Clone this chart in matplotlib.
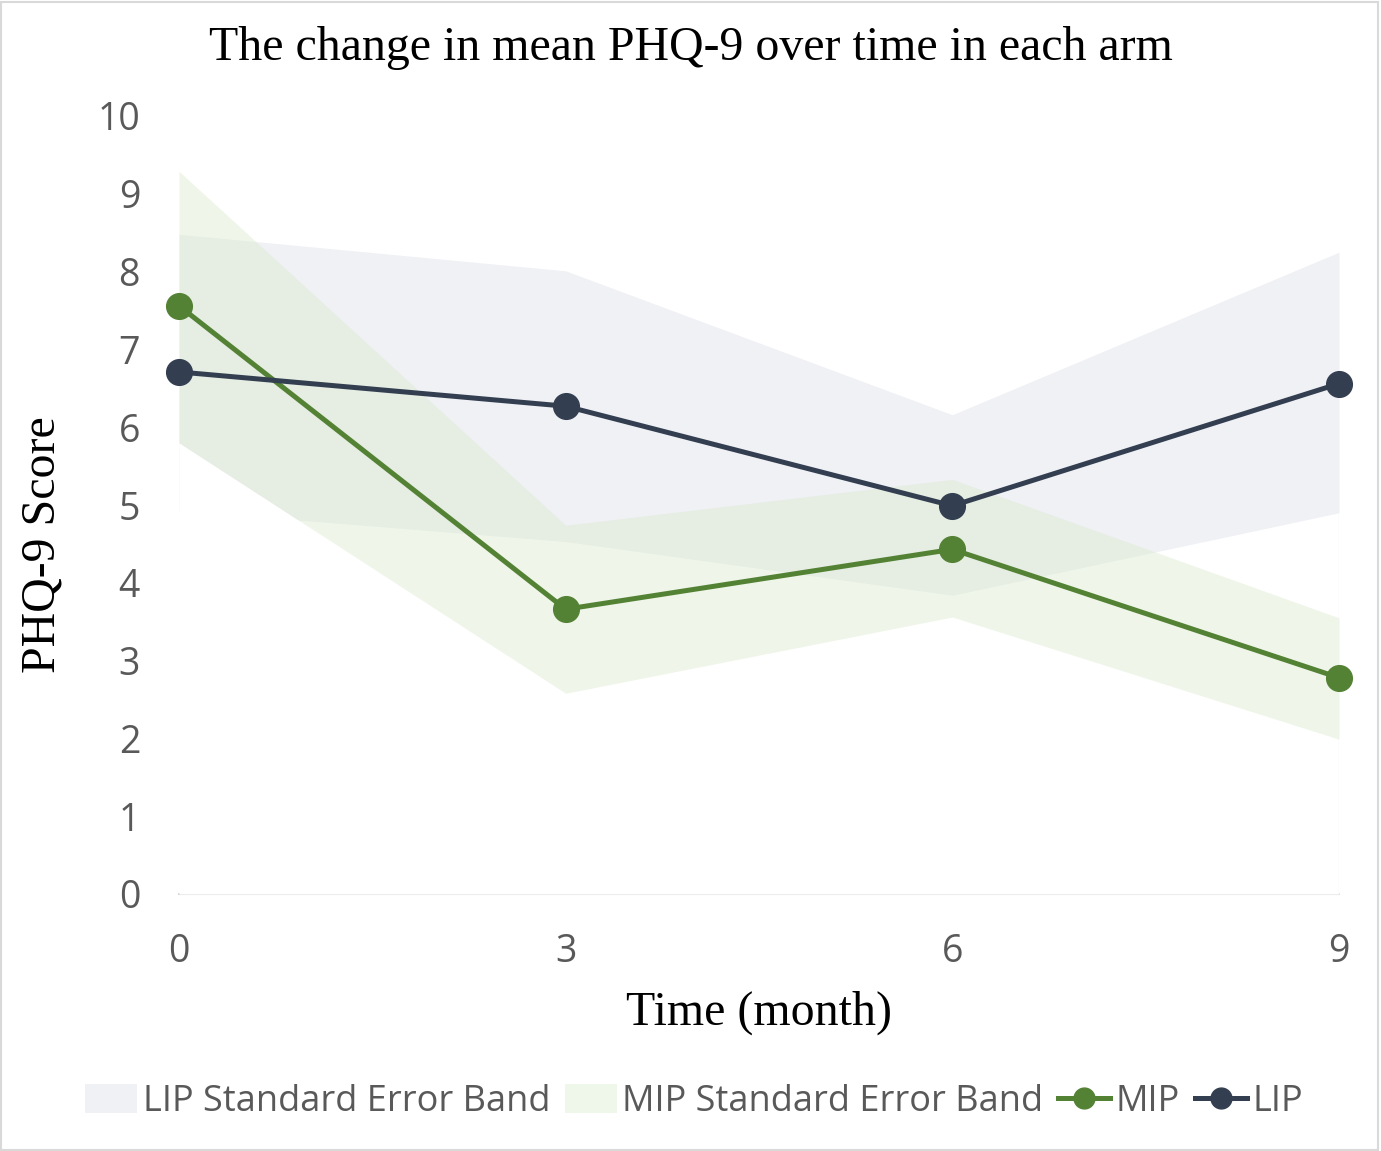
import matplotlib
matplotlib.use("Agg")
import matplotlib.pyplot as plt
from matplotlib.patches import Patch, Rectangle
from matplotlib.lines import Line2D
from matplotlib import font_manager

months = [0, 3, 6, 9]
mip_mean = [7.56, 3.66, 4.43, 2.78]
lip_mean = [6.71, 6.27, 4.99, 6.56]
mip_lower = [5.80, 2.58, 3.56, 1.99]
mip_upper = [9.29, 4.74, 5.33, 3.55]
lip_lower = [4.93, 4.53, 3.84, 4.90]
lip_upper = [8.48, 8.01, 6.16, 8.25]

lip_col = "#333f50"
mip_col = "#548235"
lip_band = "#f0f1f5"
mip_band = "#d7e8ca"
grey_txt = "#595959"

serif = ["Liberation Serif", "DejaVu Serif"]
names = {f.name for f in font_manager.fontManager.ttflist}
if "Liberation Sans Narrow" in names:
    leg_font, leg_size = "Liberation Sans Narrow", 29
else:
    leg_font, leg_size = "Open Sans", 26

fig = plt.figure(figsize=(13.81, 11.51), dpi=100)
ax = fig.add_axes([179 / 1381, 1 - 894 / 1151, 1160 / 1381, 778 / 1151])

# bands drawn as stacked areas: the white base of the MIP band hides the LIP band below it
ax.fill_between(months, lip_lower, lip_upper, color=lip_band, lw=0, zorder=1)
ax.fill_between(months, 0, mip_lower, color="white", lw=0, zorder=1.1)
ax.vlines(months[-1], 0, lip_lower[-1], color="#f3f3f3", lw=1, zorder=1.15)
ax.fill_between(months, mip_lower, mip_upper, color=mip_band, alpha=0.4, lw=0, zorder=1.2)

ax.plot(months, mip_mean, color=mip_col, lw=3.6, marker="o", ms=18.5, zorder=3, clip_on=False)
ax.plot(months, lip_mean, color=lip_col, lw=3.6, marker="o", ms=18.5, zorder=3, clip_on=False)

ax.set_xlim(0, 9)
ax.set_ylim(0, 10)
ax.set_xticks(months)
ax.set_yticks(range(0, 11))
ax.tick_params(length=0, labelsize=27, labelcolor=grey_txt, pad=28)
for lab in ax.get_xticklabels() + ax.get_yticklabels():
    lab.set_fontfamily("Open Sans")
for s in ["top", "right", "left"]:
    ax.spines[s].set_visible(False)
ax.spines["bottom"].set_color("#d9d9d9")
ax.spines["bottom"].set_linewidth(1.5)
ax.spines["bottom"].set_zorder(0.5)

fig.text(0.5, 1 - 48 / 1151, "The change in mean PHQ-9 over time in each arm",
         family=serif, fontsize=34.5, ha="center", va="center")
ax.set_xlabel("Time (month)", family=serif, fontsize=34.5, labelpad=14)
ax.set_ylabel("PHQ-9 Score", family=serif, fontsize=34.5, va="center")
ax.yaxis.set_label_coords(-0.118, 0.449)

handles = [
    Patch(facecolor=lip_band, edgecolor="none"),
    Patch(facecolor="#eff6ea", edgecolor="none"),
    Line2D([], [], color=mip_col, lw=3.6, marker="o", ms=15),
    Line2D([], [], color=lip_col, lw=3.6, marker="o", ms=15),
]
labels = ["LIP Standard Error Band", "MIP Standard Error Band", "MIP", "LIP"]
leg = fig.legend(handles, labels, loc="center", bbox_to_anchor=(0.5025, 1 - 1102 / 1151),
                 ncol=4, frameon=False, handlelength=1.45, handleheight=0.85,
                 handletextpad=0.15, columnspacing=0.4,
                 prop={"family": leg_font, "size": leg_size})
for t in leg.get_texts():
    t.set_color(grey_txt)

fig.patches.append(Rectangle((0.001, 0.001), 0.997, 0.997, transform=fig.transFigure,
                             fill=False, edgecolor="#d9d9d9", lw=1.5))

fig.savefig("out.png", dpi=100)
